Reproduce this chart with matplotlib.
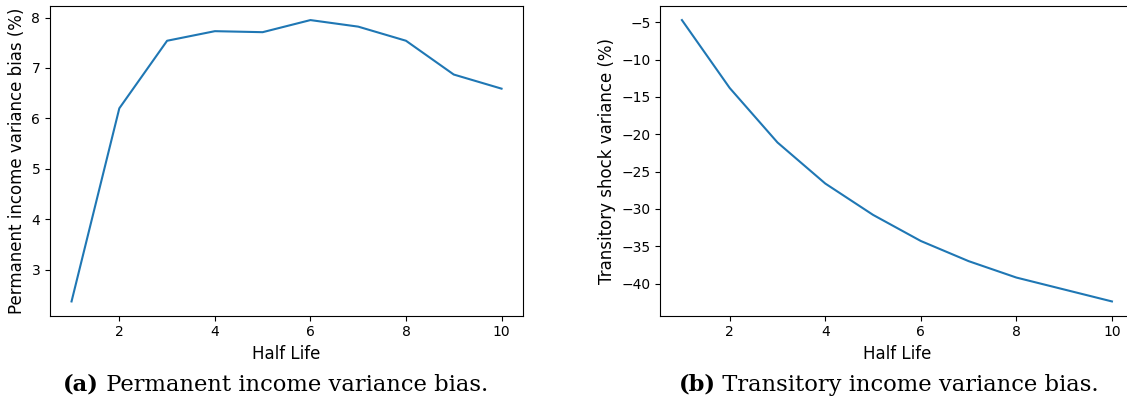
import matplotlib.pyplot as plt

# half life on the x axis
half_life = [1, 2, 3, 4, 5, 6, 7, 8, 9, 10]

# bias in percent
perm_bias = [2.37, 6.20, 7.54, 7.73, 7.71, 7.95, 7.82, 7.54, 6.87, 6.59]
trans_bias = [-4.7, -13.8, -21.1, -26.6, -30.8, -34.3, -37.0, -39.2, -40.8, -42.4]

captions = [("(a)", " Permanent income variance bias."),
            ("(b)", " Transitory income variance bias.")]

plt.rcParams["font.size"] = 10
plt.rcParams["axes.labelsize"] = 12

fig = plt.figure(figsize=(11.27, 4.09), dpi=100)
ax1 = fig.add_axes([0.0444, 0.2286, 0.4197, 0.7567])
ax2 = fig.add_axes([0.586, 0.2286, 0.4197, 0.7567])

ax1.plot(half_life, perm_bias)
ax1.set_xlabel("Half Life")
ax1.set_ylabel("Permanent income variance bias (%)")

ax2.plot(half_life, trans_bias)
ax2.set_xlabel("Half Life")
ax2.set_ylabel("Transitory shock variance (%)")

# captions under each panel, bold label + regular text
for (lab, txt), x in zip(captions, [0.056, 0.602]):
    t = fig.text(x, 0.045, lab, fontsize=16.3, fontweight="bold",
                 family="DejaVu Serif", va="baseline")
    ax1.annotate(txt, xy=(1, 0), xycoords=t, va="bottom", fontsize=16.3,
                 family="DejaVu Serif", annotation_clip=False)

fig.savefig("out.png", dpi=100)
